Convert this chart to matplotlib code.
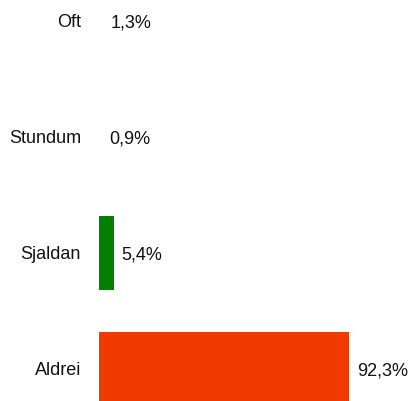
import matplotlib.pyplot as plt

categories = ['Oft', 'Stundum', 'Sjaldan', 'Aldrei']
values = [1.3, 0.9, 5.4, 92.3]
labels = ['1,3%', '0,9%', '5,4%', '92,3%']
colors = ['white', 'white', '#008000', '#f03a00']

plt.rcParams['font.family'] = ['Liberation Sans', 'DejaVu Sans']

fig = plt.figure(figsize=(4.13, 4.01), dpi=100)
ax = fig.add_axes([0, 0, 1, 1])

pos = list(range(len(categories)))
ax.barh(pos, values, height=0.64, color=colors)

for i, (v, lab, cat) in enumerate(zip(values, labels, categories)):
    ax.annotate(lab, (v, i), xytext=(8, -2), textcoords='offset pixels',
                ha='left', va='center', fontsize=13, color='#111111')
    ax.annotate(cat, (0, i), xytext=(-18, -2), textcoords='offset pixels',
                ha='right', va='center', fontsize=13, color='#111111')

ax.set_xlim(-36.55, 115.9)
ax.set_ylim(3.276, -0.18)
ax.axis('off')

fig.savefig('out.png', dpi=100)
